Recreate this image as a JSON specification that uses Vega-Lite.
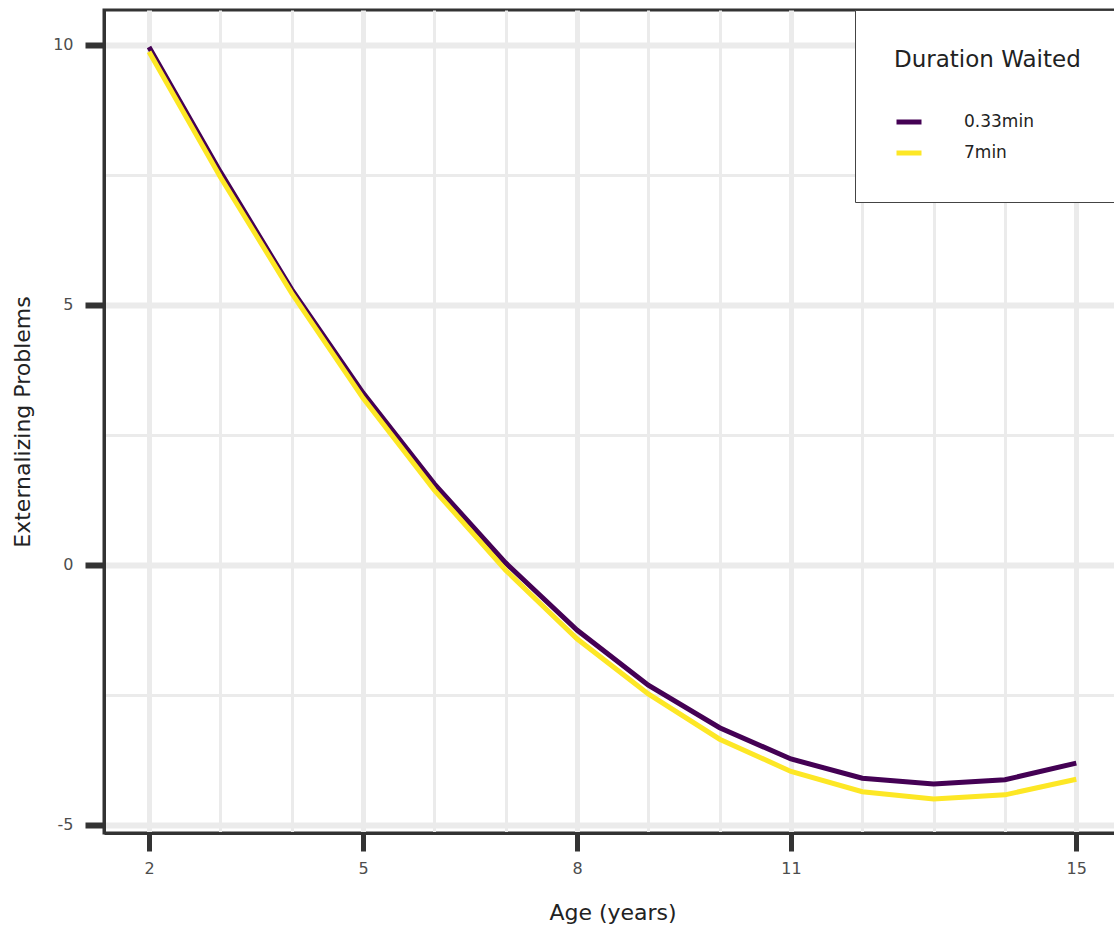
{
  "$schema": "https://vega.github.io/schema/vega-lite/v6.json",
  "autosize": "none",
  "padding": {"left": 104, "top": 10, "right": 0, "bottom": 93},
  "width": 1017,
  "height": 823,
  "background": "white",
  "config": {
    "font": "DejaVu Sans",
    "view": {"stroke": "#333333", "strokeWidth": 3},
    "axis": {
      "labelFont": "DejaVu Sans",
      "titleFont": "DejaVu Sans",
      "labelColor": "#4d4d4d",
      "titleColor": "#222222",
      "titleFontWeight": "normal",
      "gridColor": "#ebebeb"
    },
    "legend": {
      "titleFont": "DejaVu Sans",
      "labelFont": "DejaVu Sans"
    }
  },
  "data": {
    "values": [
      {"age": 2, "value": 9.96, "duration": "0.33min"},
      {"age": 3, "value": 7.56, "duration": "0.33min"},
      {"age": 4, "value": 5.3, "duration": "0.33min"},
      {"age": 5, "value": 3.31, "duration": "0.33min"},
      {"age": 6, "value": 1.56, "duration": "0.33min"},
      {"age": 7, "value": 0.04, "duration": "0.33min"},
      {"age": 8, "value": -1.25, "duration": "0.33min"},
      {"age": 9, "value": -2.31, "duration": "0.33min"},
      {"age": 10, "value": -3.13, "duration": "0.33min"},
      {"age": 11, "value": -3.73, "duration": "0.33min"},
      {"age": 12, "value": -4.1, "duration": "0.33min"},
      {"age": 13, "value": -4.21, "duration": "0.33min"},
      {"age": 14, "value": -4.13, "duration": "0.33min"},
      {"age": 15, "value": -3.81, "duration": "0.33min"},
      {"age": 2, "value": 9.87, "duration": "7min"},
      {"age": 3, "value": 7.46, "duration": "7min"},
      {"age": 4, "value": 5.23, "duration": "7min"},
      {"age": 5, "value": 3.21, "duration": "7min"},
      {"age": 6, "value": 1.44, "duration": "7min"},
      {"age": 7, "value": -0.1, "duration": "7min"},
      {"age": 8, "value": -1.42, "duration": "7min"},
      {"age": 9, "value": -2.48, "duration": "7min"},
      {"age": 10, "value": -3.35, "duration": "7min"},
      {"age": 11, "value": -3.97, "duration": "7min"},
      {"age": 12, "value": -4.36, "duration": "7min"},
      {"age": 13, "value": -4.5, "duration": "7min"},
      {"age": 14, "value": -4.42, "duration": "7min"},
      {"age": 15, "value": -4.12, "duration": "7min"}
    ]
  },
  "resolve": {"axis": {"x": "independent", "y": "independent"}},
  "layer": [
    {
      "mark": {"type": "line", "strokeOpacity": 0},
      "encoding": {
        "x": {
          "field": "age", "type": "quantitative",
          "scale": {"domain": [1.369, 15.627], "nice": false, "zero": false},
          "axis": {"orient": "bottom", "values": [3, 4, 6, 7, 9, 10, 12, 13, 14], "grid": true, "gridWidth": 3, "labels": false, "ticks": false, "domain": false, "title": null}
        },
        "y": {
          "field": "value", "type": "quantitative",
          "scale": {"domain": [-5.154, 10.673], "nice": false, "zero": false},
          "axis": {"orient": "left", "values": [7.5, 2.5, -2.5], "grid": true, "gridWidth": 3, "labels": false, "ticks": false, "domain": false, "title": null}
        },
        "detail": {"field": "duration"}
      }
    },
    {
      "mark": {"type": "line", "strokeWidth": 5},
      "encoding": {
        "x": {
          "field": "age", "type": "quantitative",
          "scale": {"domain": [1.369, 15.627], "nice": false, "zero": false},
          "axis": {"orient": "bottom", "values": [2, 5, 8, 11, 15], "grid": true, "gridWidth": 5, "ticks": true, "tickSize": 18, "tickWidth": 5, "tickColor": "#333333", "domain": true, "domainColor": "#333333", "domainWidth": 3, "labelFontSize": 16, "labelColor": "#4d4d4d", "labelPadding": 9, "title": "Age (years)", "titleFontSize": 22, "titleColor": "#222222", "titleFontWeight": "normal", "titlePadding": 26}
        },
        "y": {
          "field": "value", "type": "quantitative",
          "scale": {"domain": [-5.154, 10.673], "nice": false, "zero": false},
          "axis": {"orient": "left", "values": [10, 5, 0, -5], "labelExpr": "'' + datum.value", "grid": true, "gridWidth": 6, "ticks": true, "tickSize": 19, "tickWidth": 6, "tickColor": "#333333", "domain": true, "domainColor": "#333333", "domainWidth": 3, "labelFontSize": 16, "labelColor": "#4d4d4d", "labelPadding": 12, "title": "Externalizing Problems", "titleFontSize": 22, "titleColor": "#222222", "titleFontWeight": "normal", "titlePadding": 18}
        },
        "color": {
          "field": "duration", "type": "nominal",
          "scale": {"domain": ["0.33min", "7min"], "range": ["#440154", "#FDE725"]},
          "legend": {
            "title": "Duration Waited",
            "orient": "none",
            "legendX": 751,
            "legendY": 0,
            "fillColor": "white",
            "strokeColor": "#444444",
            "padding": 39,
            "titleFontSize": 23,
            "titleLimit": 400,
            "titleFontWeight": "normal",
            "titleColor": "#222222",
            "titlePadding": 35,
            "labelFontSize": 17,
            "labelColor": "#222222",
            "labelOffset": 40,
            "symbolType": "stroke",
            "symbolSize": 625,
            "symbolStrokeWidth": 5,
            "rowPadding": 6
          }
        }
      }
    }
  ]
}
